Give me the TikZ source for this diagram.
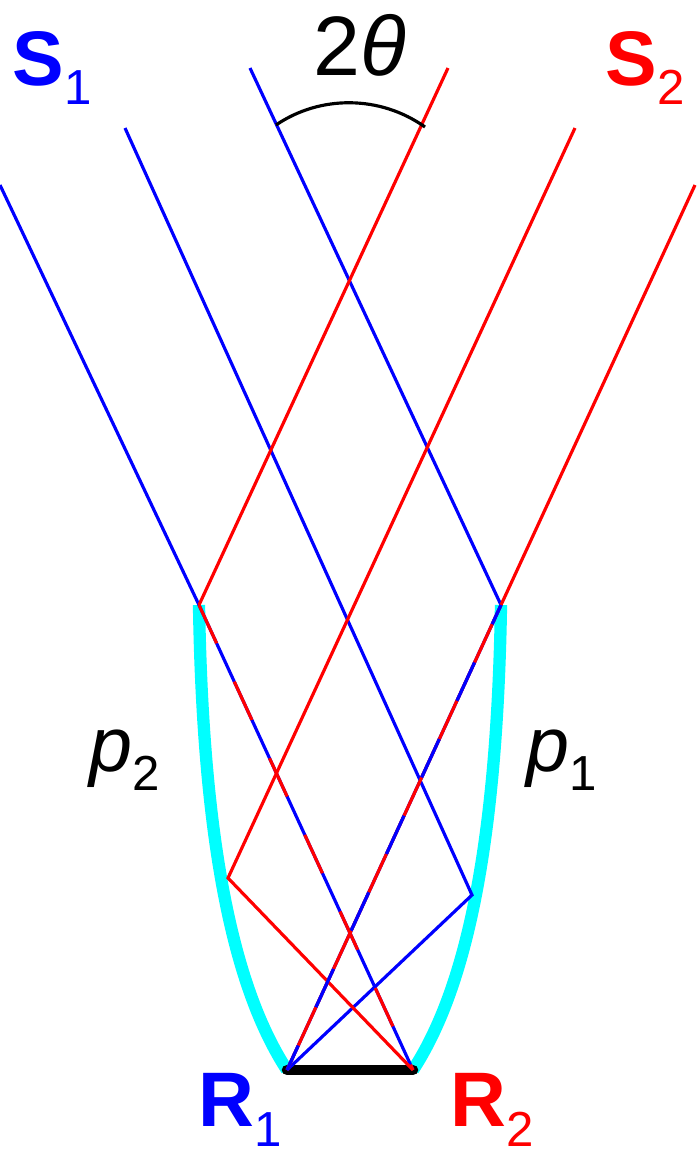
\documentclass[tikz,border=0pt]{standalone}
\usepackage{fontspec}
\setmainfont{Liberation Sans}
\usetikzlibrary{calc}
\definecolor{mirror}{rgb}{0,1,1}
\newcommand{\lsub}[1]{\raisebox{-0.25em}{\fontsize{28}{28}\selectfont\mdseries #1}}
\tikzset{
  ray/.style={line width=1.8pt},
  bigl/.style={font=\fontsize{44}{44}\selectfont,inner sep=0pt},
}
\begin{document}
\begin{tikzpicture}[x=0.02cm,y=-0.02cm]
  \useasboundingbox (0,0) rectangle (700,1160);
  % end points
  \coordinate (ltop) at (199,605);
  \coordinate (rtop) at (501,605);
  \coordinate (lmid) at (228,878);
  \coordinate (rmid) at (472,895);
  \coordinate (rA) at (287,1070);
  \coordinate (rB) at (413,1070);

  % mirrors
  \draw[mirror,line width=7pt] (ltop) .. controls (203,850) and (235,990) .. (rA);
  \draw[mirror,line width=7pt] (rtop) .. controls (497,850) and (465,990) .. (rB);
  \draw[line width=6pt,line cap=round] (rA) -- (rB);

  % rays from S1
  \draw[blue,ray] (0,185) -- (ltop) -- (rB);
  \draw[blue,ray] (125,128) -- (rmid) -- (rA);
  \draw[blue,ray] (250,68) -- (rtop) -- (rA);
  % rays from S2
  \draw[red,ray] (448,68) -- (ltop);
  \draw[red,ray] (575,128) -- (lmid) -- (rB);
  \draw[red,ray] (695,185) -- (rtop) -- (rA);
  % shared paths
  \draw[red,ray,dash pattern=on 24pt off 24pt] (ltop) -- (rB);
  \draw[blue,ray,dash pattern=on 24pt off 24pt,dash phase=12pt] (rtop) -- (rA);

  % angle
  \draw[line width=1.8pt] (276,125) .. controls (320,95) and (380,95) .. (425,127);

  % labels
  \node[bigl,blue] (s1) at (52,68) {\textbf{S}\lsub{1}};
  \node[bigl,red] (s2) at (645,68) {\textbf{S}\lsub{2}};
  \node[bigl,font=\fontsize{48}{48}\selectfont] (th) at (360,45) {2\textit{θ}};
  \node[bigl] (p2) at (125,760) {\textit{p}\lsub{2}};
  \node[bigl] (p1) at (562,760) {\textit{p}\lsub{1}};
  \node[bigl,blue] (r1) at (240,1110) {\textbf{R}\lsub{1}};
  \node[bigl,red] (r2) at (492,1110) {\textbf{R}\lsub{2}};
\end{tikzpicture}
\end{document}
